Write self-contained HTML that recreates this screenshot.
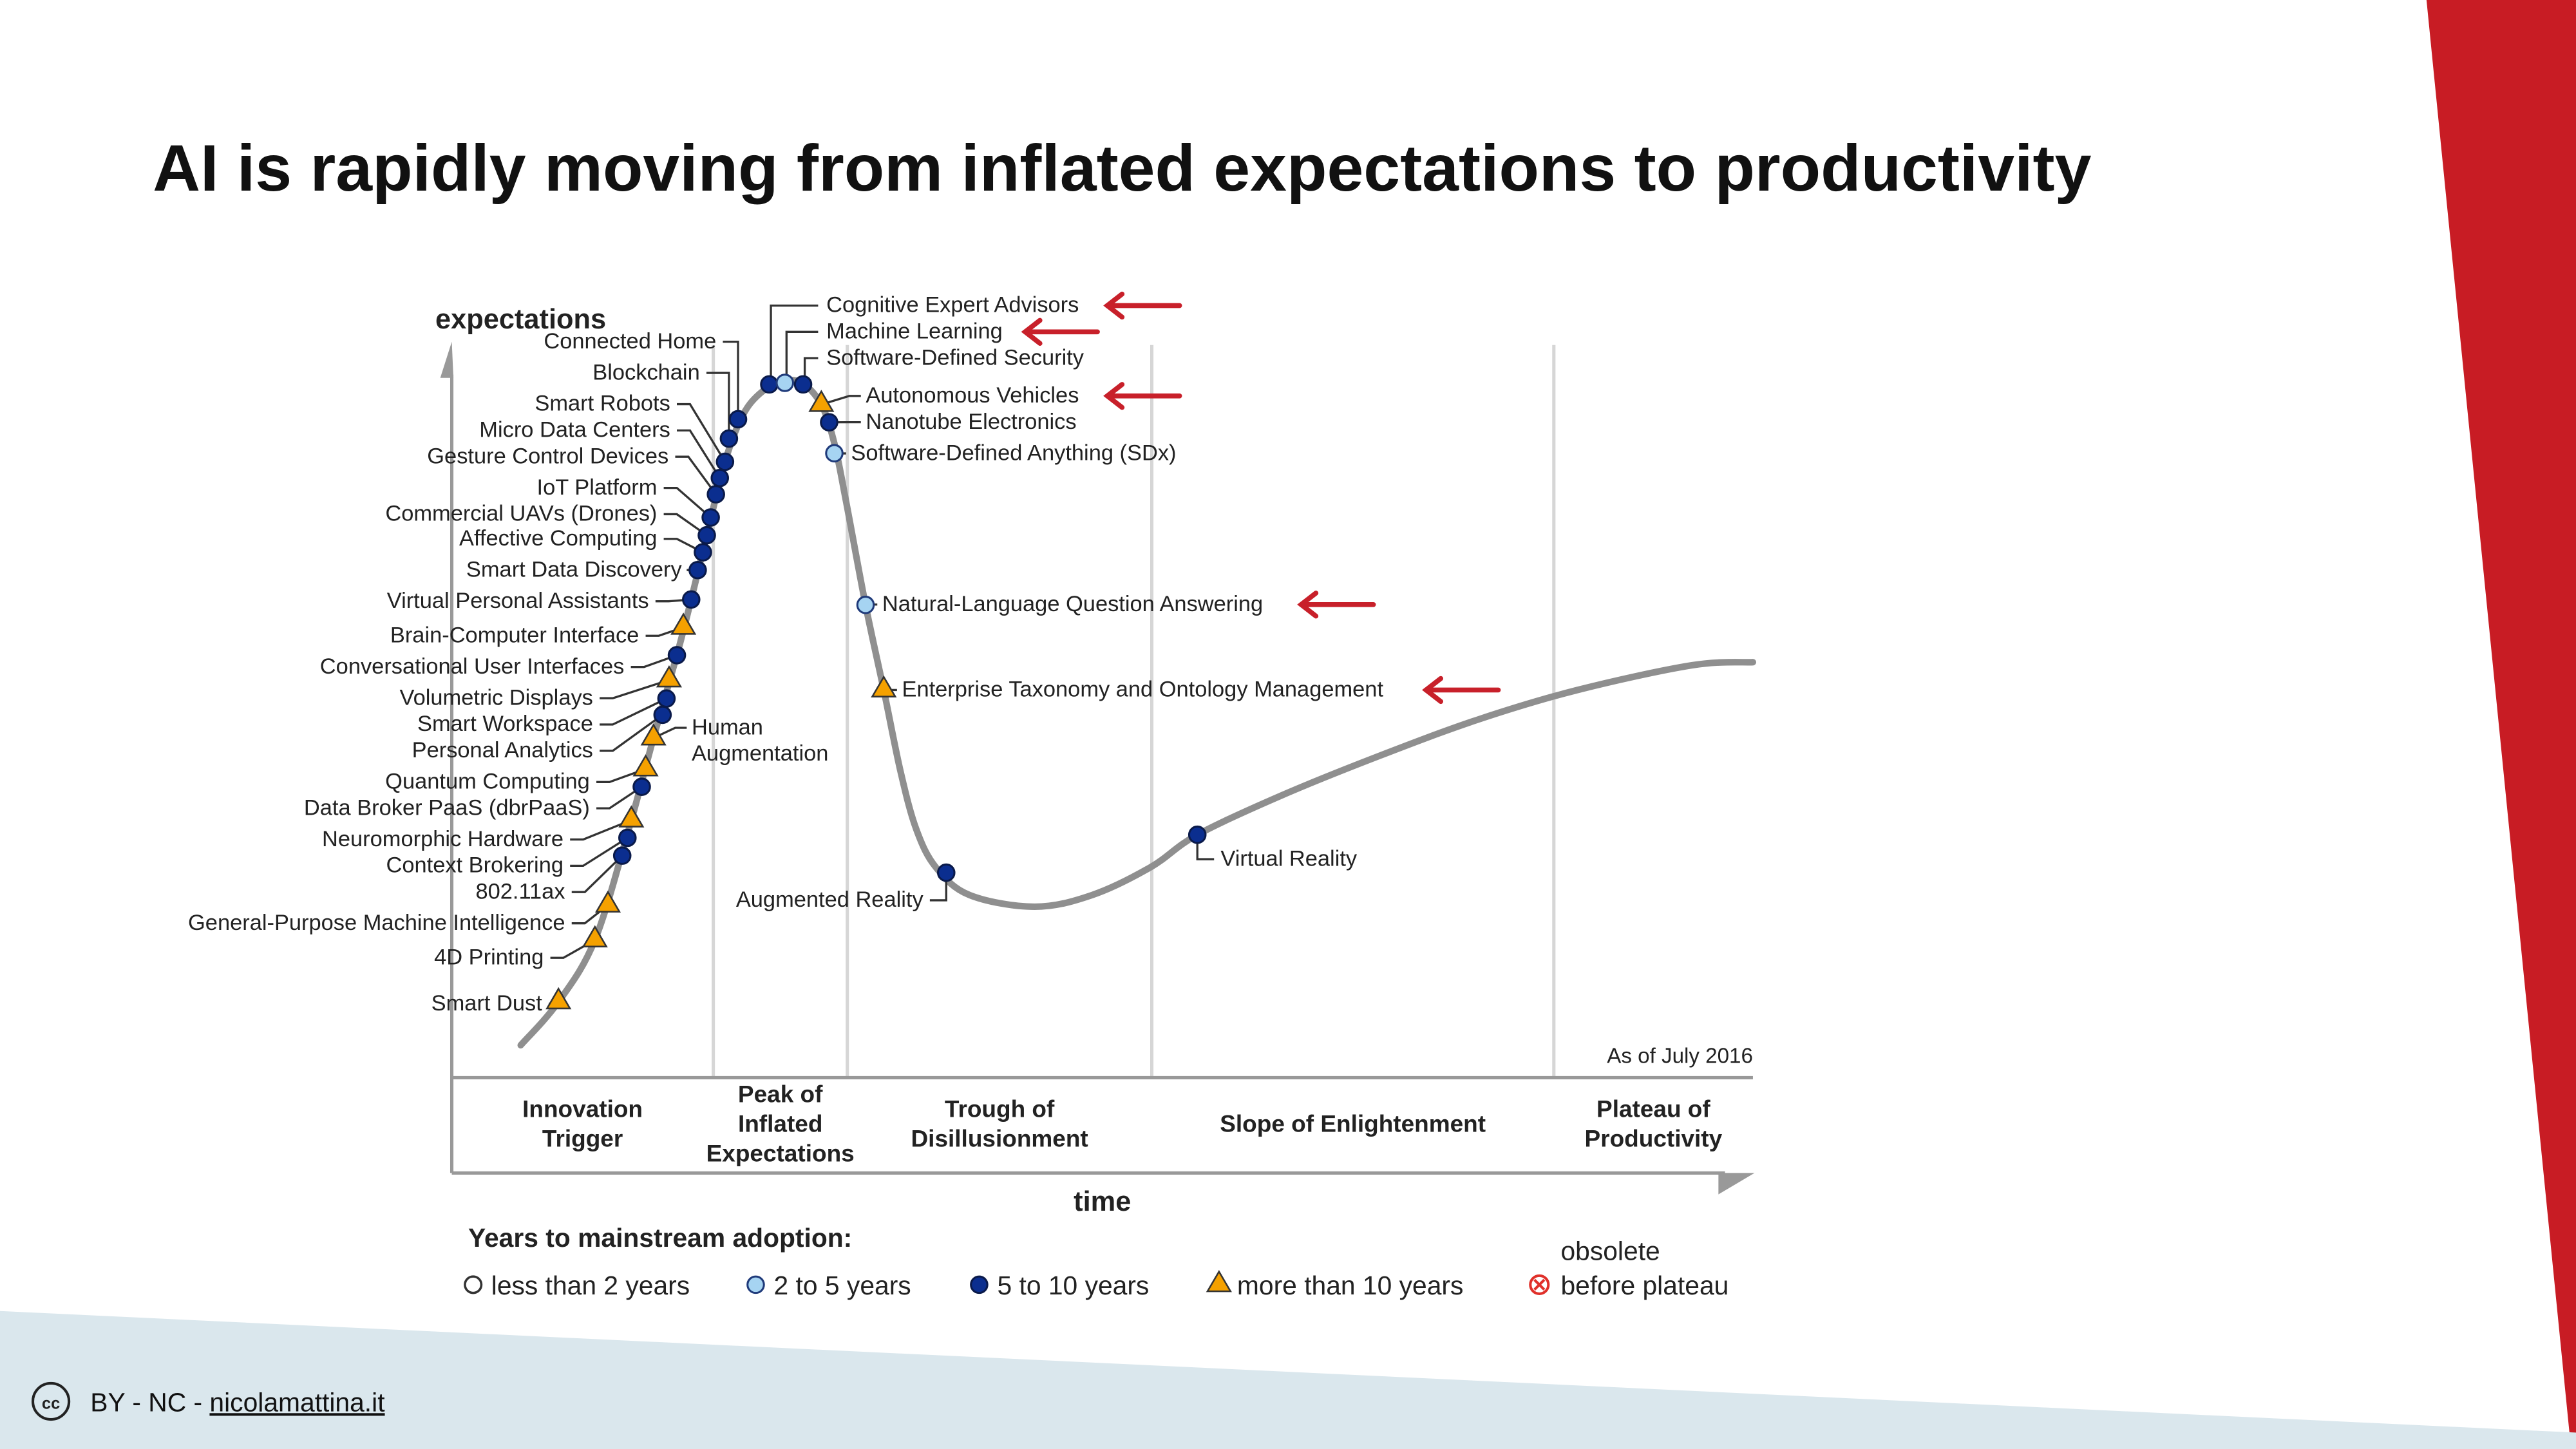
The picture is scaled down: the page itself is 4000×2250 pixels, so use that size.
<!DOCTYPE html>
<html><head><meta charset="utf-8"><style>
html,body{margin:0;padding:0;background:#fff;}
svg{display:block;font-family:"Liberation Sans",sans-serif;}
</style></head><body>
<svg id="s" width="4000" height="2250" viewBox="0 0 1568 882" xmlns="http://www.w3.org/2000/svg">
<rect width="1568" height="882" fill="#ffffff"/>
<polygon points="1477,0 1568,0 1568,882 1565,882" fill="#c81c24"/>
<polygon points="0,798 1568,872 1568,882 0,882" fill="#dae7ed"/>
<text x="93" y="116" font-size="40" font-weight="bold" fill="#111" textLength="1180" lengthAdjust="spacingAndGlyphs">AI is rapidly moving from inflated expectations to productivity</text>
<g>
<circle cx="31" cy="853" r="11" fill="none" stroke="#222" stroke-width="1.6"/>
<text x="31" y="857.5" font-size="10" text-anchor="middle" fill="#222" font-weight="bold">cc</text>
</g>
<text x="55" y="859" font-size="16" fill="#111">BY - NC - <tspan text-decoration="underline">nicolamattina.it</tspan></text>

<g id="chart"></g>
</svg>
<script>
// ---- data ----
const curveTime = [5.3,8.2,11.0,13.6,15.5,17.3,18.4,19.6,21.0,22.3,23.6,25.3,26.9,28.4,29.4,30.3,31.8,33.2,34.5,35.7,37.2,39.8,44.8,49.2,53.7,57.3,63.8,71.3,78.9,86.5,95.3,100];
const curveExp = [4.2,9.8,17.8,32.1,43.9,54.6,61.8,70.1,79.6,85.4,88.3,90.0,89.8,87.0,82.0,74.5,61.1,50.1,39.5,32.1,27.2,23.6,22.1,23.6,27.2,31.4,36.5,41.6,46.3,50.1,53.3,53.7];
const techNames = ["Smart Dust","4D Printing","General-Purpose Machine Intelligence","802.11ax","Context Brokering","Neuromorphic Hardware","Data Broker PaaS (dbrPaaS)","Quantum Computing","Human Augmentation","Personal Analytics","Smart Workspace","Volumetric Displays","Conversational User Interfaces","Brain-Computer Interface","Virtual Personal Assistants","Smart Data Discovery","Affective Computing","Commercial UAVs (Drones)","IoT Platform","Gesture Control Devices","Micro Data Centers","Smart Robots","Blockchain","Connected Home","Cognitive Expert Advisors","Machine Learning","Software-Defined Security","Autonomous Vehicles","Nanotube Electronics","Software-Defined Anything (SDx)","Natural-Language Question Answering","Enterprise Taxonomy and Ontology Management","Augmented Reality","Virtual Reality"];
const techTime = [8.2,11.0,12.0,13.1,13.5,13.8,14.6,14.9,15.5,16.2,16.5,16.7,17.3,17.8,18.4,18.9,19.3,19.6,19.9,20.3,20.6,21.0,21.3,22.0,24.4,25.6,27.0,28.4,29.0,29.4,31.8,33.2,38.0,57.3];
const techExp = [9.8,17.8,22.3,28.7,31.0,33.3,37.6,39.9,43.9,46.9,49.0,51.4,54.6,58.2,61.8,65.6,67.9,70.1,72.4,75.4,77.5,79.6,82.6,85.1,89.6,89.8,89.6,87.0,84.7,80.7,61.1,50.1,26.5,31.4];
const techYears = ["10+","10+","10+","5-10","5-10","10+","5-10","10+","10+","5-10","5-10","10+","5-10","10+","5-10","5-10","5-10","5-10","5-10","5-10","5-10","5-10","5-10","5-10","5-10","2-5","5-10","10+","5-10","2-5","2-5","10+","5-10","5-10"];
const phaseNames = [["Innovation","Trigger"],["Peak of","Inflated","Expectations"],["Trough of","Disillusionment"],["Slope of Enlightenment"],["Plateau of","Productivity"]];
const phaseBounds = [0,20.1,30.4,53.8,84.7,100];
const highlighted = ["Cognitive Expert Advisors","Machine Learning","Autonomous Vehicles","Natural-Language Question Answering","Enterprise Taxonomy and Ontology Management"];

// ---- layout (label placement, not data) ----
const X0=275, X1=1067, Y0=656, Y1=185;
const xS = t => X0 + t*(X1-X0)/100;
const yS = e => Y0 - e*(Y0-Y1)/100;
const labelPos = {
"Smart Dust":["L",330,611],"4D Printing":["L",331,583],"General-Purpose Machine Intelligence":["L",344,562],
"802.11ax":["L",344,543],"Context Brokering":["L",343,527],"Neuromorphic Hardware":["L",343,511],
"Data Broker PaaS (dbrPaaS)":["L",359,492],"Quantum Computing":["L",359,476],"Human Augmentation":["R",421,443],
"Personal Analytics":["L",361,457],"Smart Workspace":["L",361,441],"Volumetric Displays":["L",361,425],
"Conversational User Interfaces":["L",380,406],"Brain-Computer Interface":["L",389,387],"Virtual Personal Assistants":["L",395,366],
"Smart Data Discovery":["L",415,347],"Affective Computing":["L",400,328],"Commercial UAVs (Drones)":["L",400,313],
"IoT Platform":["L",400,297],"Gesture Control Devices":["L",407,278],"Micro Data Centers":["L",408,262],
"Smart Robots":["L",408,246],"Blockchain":["V",426,227],"Connected Home":["V",436,208],
"Cognitive Expert Advisors":["T",503,186],"Machine Learning":["T",503,202],"Software-Defined Security":["T",503,218],
"Autonomous Vehicles":["R",527,241],"Nanotube Electronics":["R",527,257],"Software-Defined Anything (SDx)":["R",518,276],
"Natural-Language Question Answering":["R",537,368],"Enterprise Taxonomy and Ontology Management":["R",549,420],
"Augmented Reality":["AR",562,548],"Virtual Reality":["VR",743,523]};
const arrowEnd = {"Cognitive Expert Advisors":672,"Machine Learning":622,"Autonomous Vehicles":672,"Natural-Language Question Answering":790,"Enterprise Taxonomy and Ontology Management":866};

const NS="http://www.w3.org/2000/svg";
const chart=document.getElementById('chart');
function mk(tag,attrs,parent){const e=document.createElementNS(NS,tag);for(const k in attrs)e.setAttribute(k,attrs[k]);(parent||chart).appendChild(e);return e;}
function txt(x,y,s,size,opts,parent){const e=mk('text',Object.assign({x:x,y:y,'font-size':size,fill:'#222'},opts||{}),parent);e.textContent=s;return e;}

for(let i=1;i<phaseBounds.length-1;i++){
  const l=mk('line',{x1:xS(phaseBounds[i]),x2:xS(phaseBounds[i]),y1:210,y2:Y0,stroke:'#d6d6d6','stroke-width':2});
  
  
}
let a=mk('line',{x1:X0,x2:X0,y1:228,y2:714,stroke:'#999','stroke-width':2});


a=mk('polygon',{points:`${X0-7},230 ${X0},208 ${X0+1},230`,fill:'#999'});


a=mk('line',{x1:X0,x2:X1,y1:Y0,y2:Y0,stroke:'#999','stroke-width':2});


a=mk('line',{x1:X0,x2:1050,y1:714,y2:714,stroke:'#999','stroke-width':2});


a=mk('polygon',{points:`1046,714 1068,714 1046,727`,fill:'#999'});


a=txt(265,200,'expectations',17,{'font-weight':'bold'});


a=txt(671,737,'time',17,{'font-weight':'bold','text-anchor':'middle'});


a=txt(1067,647,'As of July 2016',13,{'text-anchor':'end'});



phaseNames.forEach((lines,i)=>{
  const cx=(xS(phaseBounds[i])+xS(phaseBounds[i+1]))/2;
  const startY=689-(lines.length-1)*9;
  const g=mk('text',{x:cx,'font-size':14.5,'font-weight':'bold','text-anchor':'middle',fill:'#222'});
  
  
  lines.forEach((s,j)=>{const t=mk('tspan',{x:cx,y:startY+j*18},g);t.textContent=s;});
});

const pts=curveTime.map((t,i)=>[xS(t),yS(curveExp[i])]);
let d=`M${pts[0][0]},${pts[0][1]}`;
for(let i=0;i<pts.length-1;i++){
  const p0=pts[Math.max(0,i-1)],p1=pts[i],p2=pts[i+1],p3=pts[Math.min(pts.length-1,i+2)];
  d+=` C${p1[0]+(p2[0]-p0[0])/6},${p1[1]+(p2[1]-p0[1])/6} ${p2[0]-(p3[0]-p1[0])/6},${p2[1]-(p3[1]-p1[1])/6} ${p2[0]},${p2[1]}`;
}
const curve=mk('path',{d:d,fill:'none',stroke:'#8f8f8f','stroke-width':4,'stroke-linecap':'round'});



function marker(x,y,kind,parent){
  if(kind==='10+') return mk('polygon',{points:`${x},${y-8} ${x+7},${y+4} ${x-7},${y+4}`,fill:'#f5a100',stroke:'#333','stroke-width':1},parent);
  if(kind==='2-5') return mk('circle',{cx:x,cy:y,r:5,fill:'#a6d4f2',stroke:'#1f3a7a','stroke-width':1.2},parent);
  if(kind==='<2') return mk('circle',{cx:x,cy:y,r:5,fill:'#fff',stroke:'#333','stroke-width':1.4},parent);
  return mk('circle',{cx:x,cy:y,r:5,fill:'#0b2e8f',stroke:'#0a1a4a','stroke-width':1.2},parent);
}

const leaders=mk('g',{stroke:'#333','stroke-width':1.3,fill:'none'});


techNames.forEach((name,i)=>{
  const x=xS(techTime[i]),y=yS(techExp[i]);
  let [side,lx,ly]=labelPos[name];
  ly+=4;
  let pl, tx, anchor='start';
  if(side==='L'){pl=`${lx+4},${ly-4} ${lx+12},${ly-4} ${x},${y}`;tx=lx;anchor='end';}
  else if(side==='V'){pl=`${lx+4},${ly-4} ${x},${ly-4} ${x},${y}`;tx=lx;anchor='end';}
  else if(side==='T'){pl=`${lx-5},${ly-4} ${x+1},${ly-4} ${x+1},${y}`;tx=lx;}
  else if(side==='R'){pl=`${x},${y} ${lx-10},${ly-4} ${lx-3},${ly-4}`;tx=lx;}
  else if(side==='AR'){pl=`${x},${y} ${x},${ly-4} ${lx+4},${ly-4}`;tx=lx;anchor='end';}
  else {pl=`${x},${y} ${x},${ly-4} ${lx-4},${ly-4}`;tx=lx;}
  if(side==='L'&&name==='Smart Data Discovery') pl=`${lx+3},${ly-4} ${x},${y}`;
  mk('polyline',{points:pl},leaders);
  if(name==='Human Augmentation'){
    const t=txt(lx,ly,'Human',13.5,{});
    
    
    const t2=txt(lx,ly+16,'Augmentation',13.5,{});
    
    
  } else {
    const t=txt(tx,ly,name,13.5,{'text-anchor':anchor});
    
    
  }
  if(highlighted.includes(name)){
    const ax=arrowEnd[name], ay=ly-4;
    const g=mk('g',{stroke:'#c8202a','stroke-width':3,fill:'none','stroke-linecap':'round'});
    
    
    mk('line',{x1:ax+2,y1:ay,x2:ax+46,y2:ay},g);
    mk('polyline',{points:`${ax+11},${ay-7} ${ax+2},${ay} ${ax+11},${ay+7}`},g);
  }
});
techNames.forEach((name,i)=>{
  const m=marker(xS(techTime[i]),yS(techExp[i]),techYears[i]);
  
  
});

const lg=mk('g',{});


let lt=txt(285,759,'Years to mainstream adoption:',16,{'font-weight':'bold'},lg);


const legKinds=['<2','2-5','5-10','10+'];
const legLabels=['less than 2 years','2 to 5 years','5 to 10 years','more than 10 years'];
const legX=[288,460,596,742];
legKinds.forEach((k,i)=>{
  const m=marker(legX[i],782,k,lg);
  
  
  const t=txt(legX[i]+11,788,legLabels[i],16,{},lg);
  
  
});
const ob=mk('g',{},lg);


mk('circle',{cx:937,cy:782,r:5.5,fill:'#fff',stroke:'#e0302a','stroke-width':1.6},ob);
mk('path',{d:'M934,779 L940,785 M940,779 L934,785',stroke:'#e0302a','stroke-width':1.6},ob);
let t1=txt(950,767,'obsolete',16,{},lg);


let t2=txt(950,788,'before plateau',16,{},lg);


</script>
</body></html>
